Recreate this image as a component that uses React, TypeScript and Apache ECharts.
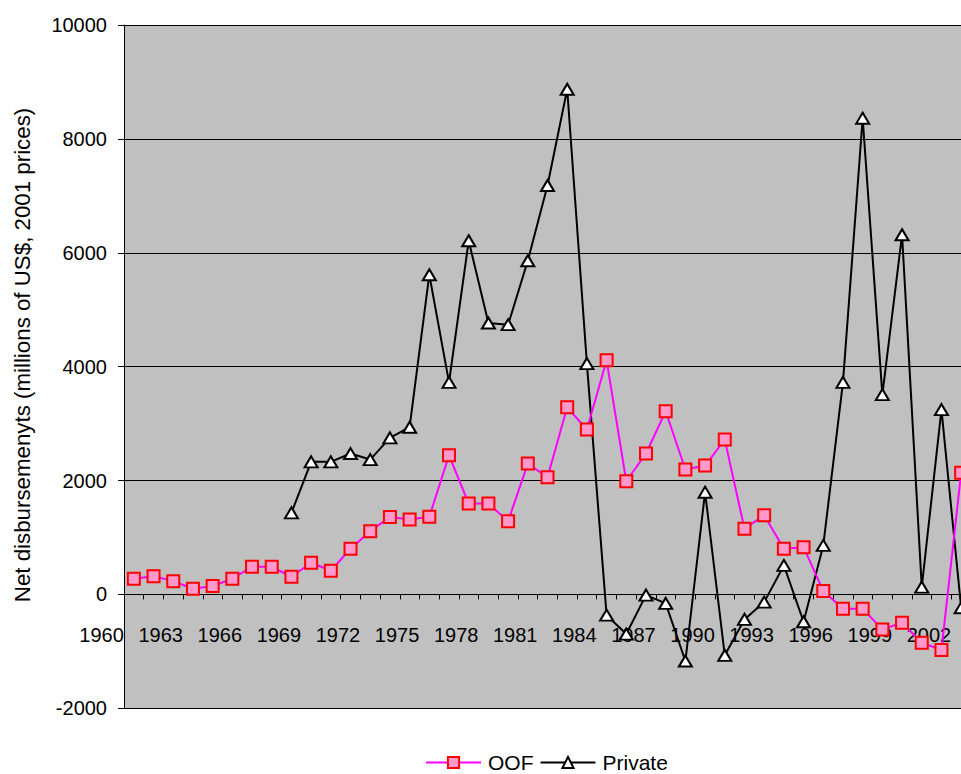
import React, { useEffect, useRef } from "react";
import * as echarts from "echarts";

const years = [
  "1960", "1961", "1962", "1963", "1964", "1965", "1966", "1967", "1968", "1969",
  "1970", "1971", "1972", "1973", "1974", "1975", "1976", "1977", "1978", "1979",
  "1980", "1981", "1982", "1983", "1984", "1985", "1986", "1987", "1988", "1989",
  "1990", "1991", "1992", "1993", "1994", "1995", "1996", "1997", "1998", "1999",
  "2000", "2001", "2002",
];

const oof = [
  275, 321, 233, 100, 146, 275, 486, 486, 310, 556,
  416, 802, 1111, 1360, 1316, 1363, 2444, 1596, 1596, 1286,
  2298, 2058, 3286, 2895, 4111, 1988, 2474, 3216, 2193, 2263,
  2719, 1152, 1392, 801, 830, 58, -251, -251, -614, -497,
  -848, -977, 2135,
];

const privateFlows = [
  null, null, null, null, null, null, null, null, 1433, 2328,
  2328, 2474, 2368, 2749, 2936, 5614, 3725, 6211, 4766, 4737,
  5860, 7181, 8872, 4053, -365, -696, -12, -158, -1170, 1795,
  -1070, -439, -135, 509, -480, 860, 3725, 8363, 3509, 6316,
  129, 3246, -234,
];

const yTitle = "Net disbursemenyts (millions of US$, 2001 prices)";
const FONT = "Liberation Sans, Arial, sans-serif";

export default function App() {
  const ref = useRef<HTMLDivElement>(null);
  useEffect(() => {
    if (!ref.current) return;
    const chart = echarts.init(ref.current, null, { renderer: "svg" });
    chart.setOption({
      animation: false,
      backgroundColor: "#ffffff",
      textStyle: { fontFamily: FONT },
      grid: {
        left: 124,
        top: 25,
        width: 847,
        height: 683.3,
        show: true,
        backgroundColor: "#C0C0C0",
        borderWidth: 0,
        containLabel: false,
        outerBoundsMode: "none",
      },
      legend: {
        left: 425,
        top: 752,
        padding: 0,
        itemWidth: 55,
        itemHeight: 14,
        itemGap: 6,
        textStyle: { fontSize: 21, color: "#000", fontFamily: FONT, padding: [0, 0, 0, 2] },
        data: ["OOF", "Private"],
      },
      xAxis: {
        type: "category",
        data: years,
        boundaryGap: true,
        axisLine: { show: true, onZero: true, lineStyle: { color: "#000", width: 1 } },
        axisTick: { show: true, interval: 0, length: 5, inside: false, lineStyle: { color: "#000" } },
        axisLabel: {
          interval: 2,
          align: "right",
          padding: [0, 10, 0, 0],
          margin: -83,
          fontSize: 20,
          color: "#000",
          fontFamily: FONT,
        },
        splitLine: { show: false },
      },
      yAxis: {
        type: "value",
        min: -2000,
        max: 10000,
        interval: 2000,
        axisLine: { show: true, onZero: false, lineStyle: { color: "#000", width: 1 } },
        axisTick: { show: true, length: 6, lineStyle: { color: "#000" } },
        axisLabel: {
          fontSize: 20,
          color: "#000",
          margin: 17,
          fontFamily: FONT,
          formatter: (v: number) => String(v),
        },
        splitLine: { show: true, lineStyle: { color: "#000", width: 1 } },
      },
      graphic: [
        {
          type: "text",
          x: 22,
          y: 355,
          rotation: Math.PI / 2,
          style: {
            text: yTitle,
            fontSize: 22.3,
            fontFamily: FONT,
            fill: "#000",
            textAlign: "center",
            textVerticalAlign: "middle",
          },
        },
      ],
      series: [
        {
          name: "Private",
          type: "line",
          data: privateFlows,
          z: 2,
          symbol: "triangle",
          symbolSize: [13, 11],
          showAllSymbol: true,
          connectNulls: false,
          lineStyle: { color: "#000", width: 2 },
          itemStyle: { color: "#ffffff", borderColor: "#000", borderWidth: 2 },
        },
        {
          name: "OOF",
          type: "line",
          data: oof,
          z: 3,
          symbol: "rect",
          symbolSize: 12,
          showAllSymbol: true,
          lineStyle: { color: "#FF00FF", width: 2 },
          itemStyle: { color: "#FF99CC", borderColor: "#FF0000", borderWidth: 2 },
        },
      ],
    });
    return () => chart.dispose();
  }, []);
  return (
    <div
      style={{
        position: "fixed",
        left: 0,
        top: 0,
        width: 961,
        height: 774,
        overflow: "hidden",
        background: "#fff",
      }}
    >
      <div ref={ref} style={{ width: 990, height: 774 }} />
    </div>
  );
}
